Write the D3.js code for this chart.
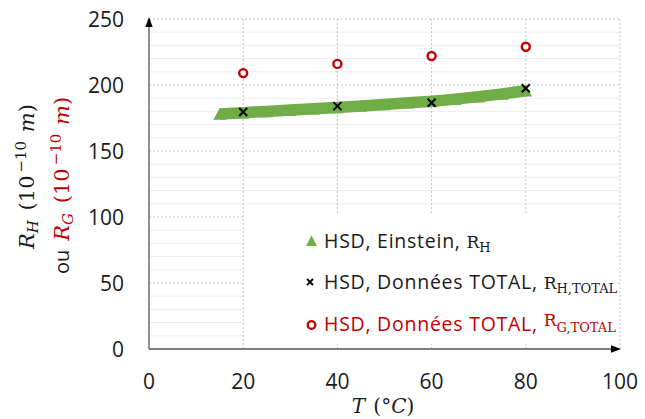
<!DOCTYPE html>
<html><head><meta charset="utf-8">
<script src="https://cdn.jsdelivr.net/npm/d3@7"></script>
<style>body{margin:0;background:#fff} svg{display:block}</style>
</head><body>
<svg id="c" width="645" height="419"></svg>
<script>
// ---- data ----
const temps = [20, 40, 60, 80];
const rhTotal = [179.5, 184, 186.5, 197.5];
const rgTotal = [209, 216, 222, 229];
const einsteinT = [15, 20, 25, 30, 35, 40, 45, 50, 55, 60, 65, 70, 75, 80];
const einsteinRH = [178.0, 179.0, 180.0, 181.0, 182.0, 183.0, 184.1, 185.3, 186.5, 187.7, 189.3, 191.2, 193.3, 195.6];
const xTicks = [0, 20, 40, 60, 80, 100];
const yTicks = [0, 50, 100, 150, 200, 250];
const legendLabels = ["HSD, Einstein, ", "HSD, Données TOTAL, ", "HSD, Données TOTAL, "];
const legendSubs = [["R", "H"], ["R", "H,TOTAL"], ["R", "G,TOTAL"]];

const GREEN = "#70ad47", RED = "#c00000", INK = "#1a1a1a";
const SANS = "'Open Sans', Lato, sans-serif";
const SERIF = "'DejaVu Serif', 'Liberation Serif', serif";

const svg = d3.select("#c");
const x = d3.scaleLinear().domain([0, 100]).range([149, 620]);
const y = d3.scaleLinear().domain([0, 250]).range([349, 19]);

// grid
const minor = d3.range(10, 250, 10).filter(v => v % 50 !== 0);
svg.append("g").selectAll("line").data(minor).join("line")
  .attr("x1", x(0)).attr("x2", x(100)).attr("y1", d => y(d)).attr("y2", d => y(d))
  .attr("stroke", "#ededed").attr("stroke-width", 1);
svg.append("g").selectAll("line").data(yTicks.slice(1)).join("line")
  .attr("x1", x(0)).attr("x2", x(100)).attr("y1", d => y(d)).attr("y2", d => y(d))
  .attr("stroke", "#c4c4c4").attr("stroke-width", 1).attr("stroke-dasharray", "2,2");
svg.append("g").selectAll("line").data(xTicks.slice(1)).join("line")
  .attr("x1", d => x(d)).attr("x2", d => x(d)).attr("y1", y(0)).attr("y2", y(250))
  .attr("stroke", "#c4c4c4").attr("stroke-width", 1).attr("stroke-dasharray", "2,2");

// legend background
svg.append("rect").attr("x", 245).attr("y", 215).attr("width", 372).attr("height", 129).attr("fill", "#fff");

// axes
svg.append("line").attr("x1", x(0)).attr("x2", x(0)).attr("y1", y(0)).attr("y2", 26)
  .attr("stroke", "#555").attr("stroke-width", 1.3);
svg.append("path").attr("d", `M${x(0)},17 L${x(0) + 3.7},27 L${x(0) - 3.7},27 Z`).attr("fill", "#000");
svg.append("line").attr("x1", x(0)).attr("x2", 612).attr("y1", y(0)).attr("y2", y(0))
  .attr("stroke", "#555").attr("stroke-width", 1.3);
svg.append("path").attr("d", `M621,${y(0)} L611,${y(0) - 3.7} L611,${y(0) + 3.7} Z`).attr("fill", "#000");

// tick labels
svg.append("g").selectAll("text").data(yTicks).join("text")
  .attr("x", 124).attr("y", d => y(d)).attr("dy", "0.36em").attr("text-anchor", "end")
  .attr("font-family", SANS).attr("font-size", 21).attr("fill", INK).text(d => d);
svg.append("g").selectAll("text").data(xTicks).join("text")
  .attr("x", d => x(d)).attr("y", 389).attr("text-anchor", "middle")
  .attr("font-family", SANS).attr("font-size", 21).attr("fill", INK).text(d => d);

// rich text helper
function rich(sel, segs) {
  let cur = 0;
  segs.forEach(s => {
    const shift = s.shift || 0;
    const ts = sel.append("tspan").attr("dy", shift - cur)
      .attr("font-family", s.f || SERIF).attr("font-size", s.s || 20)
      .attr("font-style", s.i ? "italic" : "normal").attr("fill", s.c || INK)
      .text(s.t);
    if (s.dx) ts.attr("dx", s.dx);
    if (s.ls) ts.attr("letter-spacing", s.ls);
    cur = shift;
  });
}

// axis titles
const xt = svg.append("text").attr("x", 383).attr("y", 413).attr("text-anchor", "middle");
rich(xt, [{t: "T", i: 1, s: 20}, {t: " (°", s: 20, dx: 2}, {t: "C", i: 1, s: 20}, {t: ")", s: 20}]);

function ytitle(c) {
  return [{t: "R", i: 1, s: 21, c}, {t: c === RED ? "G" : "H", i: 1, s: 15, shift: 4, c},
    {t: " (10", s: 21, c, dx: 3}, {t: "−10", s: 15, shift: -8, c, dx: 3}, {t: " ", s: 21, c},
    {t: "m", i: 1, s: 21, c, dx: 2}, {t: ")", s: 21, c}];
}
const yt1 = svg.append("text").attr("transform", "translate(34,249) rotate(-90)");
rich(yt1, ytitle(INK));
const yt2 = svg.append("text").attr("transform", "translate(69,274) rotate(-90)");
rich(yt2, [{t: "ou", f: SANS, s: 20}].concat(ytitle(RED).map((s, i) => i === 0 ? Object.assign({}, s, {dx: 9}) : s)));

// Einstein band
const band = einsteinT.map((t, i) => [t, einsteinRH[i]]);
svg.append("path").datum(band)
  .attr("d", d3.line().x(d => x(d[0])).y(d => y(d[1])).curve(d3.curveMonotoneX))
  .attr("fill", "none").attr("stroke", GREEN).attr("stroke-width", 11.5);
const tri = "M0,-5.8 L6.3,5.8 L-6.3,5.8 Z";
svg.append("g").selectAll("path").data(band).join("path")
  .attr("transform", d => `translate(${x(d[0])},${y(d[1])})`).attr("d", tri).attr("fill", GREEN);

// RH total crosses
const cross = "M-4,-4 L4,4 M-4,4 L4,-4";
svg.append("g").selectAll("path").data(temps.map((t, i) => [t, rhTotal[i]])).join("path")
  .attr("transform", d => `translate(${x(d[0])},${y(d[1])})`).attr("d", cross)
  .attr("stroke", "#000").attr("stroke-width", 2).attr("fill", "none");

// RG total circles
svg.append("g").selectAll("circle").data(temps.map((t, i) => [t, rgTotal[i]])).join("circle")
  .attr("cx", d => x(d[0])).attr("cy", d => y(d[1])).attr("r", 4)
  .attr("fill", "#fff").attr("stroke", RED).attr("stroke-width", 2.4);

// legend
const rowsY = [241, 282, 324];
const lg = svg.append("g");
lg.append("path").attr("transform", `translate(311.5,${rowsY[0]})`).attr("d", "M0,-5.5 L5.5,5 L-5.5,5 Z").attr("fill", GREEN);
lg.append("path").attr("transform", `translate(310,${rowsY[1]})`).attr("d", "M-3,-3 L3,3 M-3,3 L3,-3")
  .attr("stroke", "#000").attr("stroke-width", 1.8);
lg.append("circle").attr("cx", 311.5).attr("cy", rowsY[2] + 1).attr("r", 3.8)
  .attr("fill", "#fff").attr("stroke", RED).attr("stroke-width", 2.3);
legendLabels.forEach((lab, i) => {
  const col = i === 2 ? RED : INK;
  const raised = i === 2;
  const t = lg.append("text").attr("x", 324).attr("y", rowsY[i] + 7);
  rich(t, [{t: lab, f: SANS, s: 19.5, c: col, ls: 0.75},
    {t: legendSubs[i][0], s: 17, c: col, shift: raised ? -5 : 0},
    {t: legendSubs[i][1], s: 13, shift: raised ? 0.5 : 3.5, c: col}]);
});
</script>
</body></html>
